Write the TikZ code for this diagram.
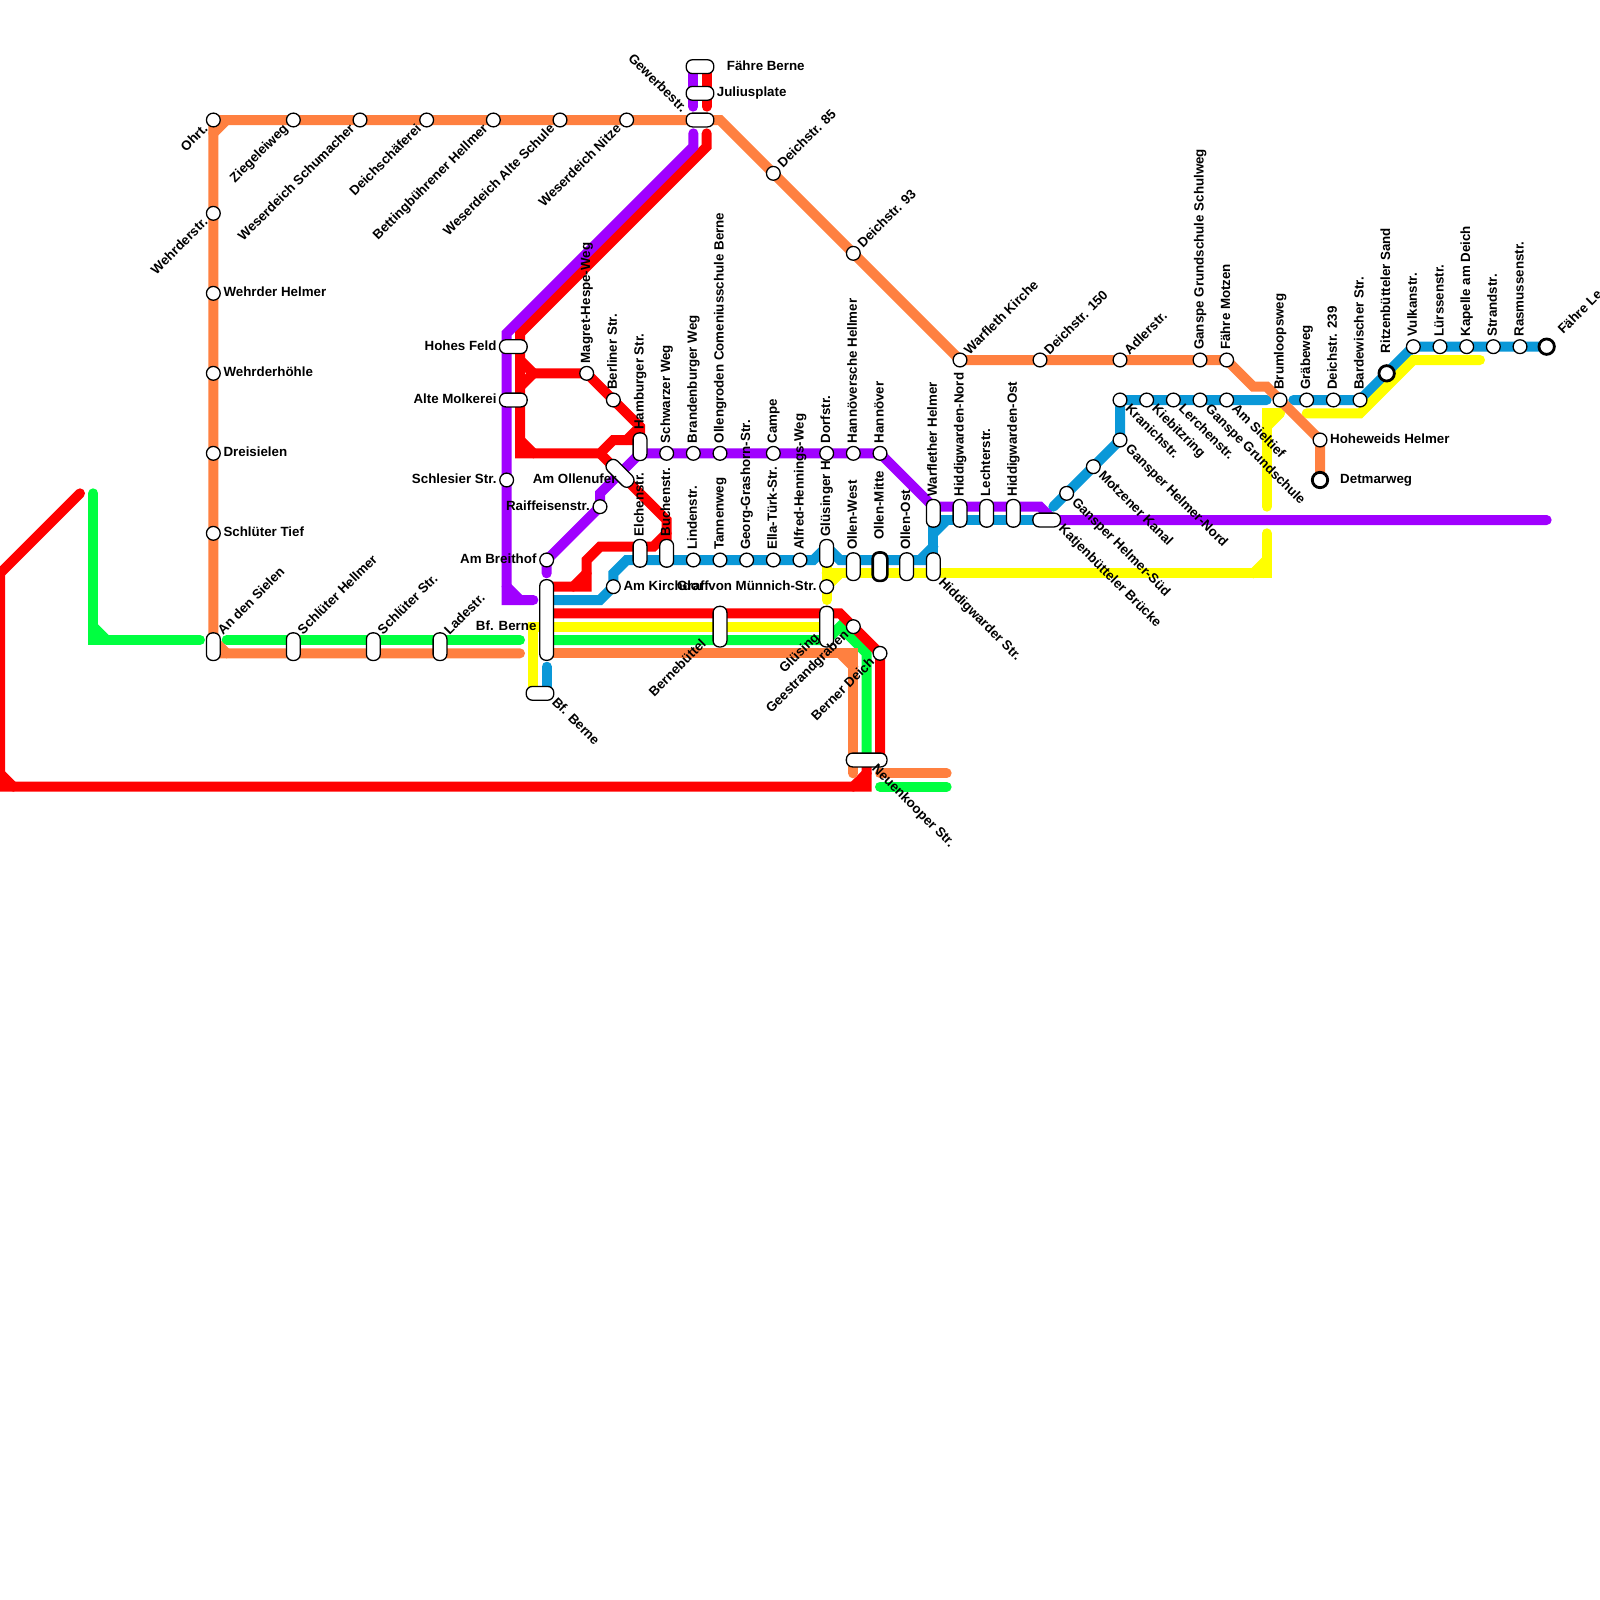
\documentclass[tikz,border=0pt]{standalone}
\usepackage{fontspec}
\setmainfont{Liberation Sans}
\definecolor{lred}{HTML}{FF0000}
\definecolor{lgreen}{HTML}{00FF40}
\definecolor{lorange}{HTML}{FF8040}
\definecolor{lyellow}{HTML}{FFFF00}
\definecolor{lblue}{HTML}{0A98D8}
\definecolor{lpurple}{HTML}{A000FF}
\tikzset{
  route/.style={line width=10pt,line cap=round,line join=miter,miter limit=10},
  stn/.style={circle,draw=black,fill=white,line width=1.3pt,minimum size=13.8pt,inner sep=0pt},
  termi/.style={circle,draw=black,fill=white,line width=2.8pt,minimum size=15.4pt,inner sep=0pt},
  pillv/.style={rectangle,draw=black,fill=white,line width=1.3pt,rounded corners=6.2pt,minimum width=13.8pt,minimum height=#1,inner sep=0pt},
  pillv/.default=27.6pt,
  pillh/.style={rectangle,draw=black,fill=white,line width=1.3pt,rounded corners=6.2pt,minimum height=13.8pt,minimum width=#1,inner sep=0pt},
  pillh/.default=27.6pt,
  txt/.style={font=\fontsize{13.33pt}{15pt}\bfseries,inner sep=0pt,text height=9.6pt,text depth=2.6pt},
  tr/.style={txt,anchor=west,xshift=#1},tr/.default=10pt,
  tl/.style={txt,anchor=east,xshift=-#1},tl/.default=10pt,
  tup/.style={txt,rotate=90,anchor=west,xshift=#1},tup/.default=10pt,
  tne/.style={txt,rotate=45,anchor=west,xshift=#1},tne/.default=10pt,
  tse/.style={txt,rotate=-45,anchor=west,xshift=#1},tse/.default=10pt,
  tsw/.style={txt,rotate=45,anchor=east,xshift=-#1},tsw/.default=10pt,
  tnw/.style={txt,rotate=-45,anchor=east,xshift=-#1},tnw/.default=10pt,
}
\begin{document}
\begin{tikzpicture}[x=13.3333pt,y=-13.3333pt]
\useasboundingbox (0,0) rectangle (120,120);
\clip (0,0) rectangle (120,120);
\fill[white] (0,0) rectangle (120,120);
% blue
\begin{scope}[route,draw=lblue]
\draw (41,45) -- (45,45) -- (46,44) -- (46,43) -- (47,42) -- (61,42) -- (62,41) -- (63,42) -- (70,42);
\draw (69,42) -- (70,41);
\draw (70,42) -- (70,39) -- (79,39);
\draw (70,40) -- (71,39);
\draw (41,50) -- (41,52);
\draw (79,38) -- (84,33) -- (84,30) -- (95,30);
\draw (97,30) -- (102,30) -- (106,26) -- (116,26);
\end{scope}
% yellow
\begin{scope}[route,draw=lyellow]
\draw (40,52) -- (40,47) -- (62,47);
\draw (62,42) -- (62,45);
\draw (62,43) -- (95,43) -- (95,40);
\draw (62,44) -- (63,43);
\draw (94,43) -- (95,42);
\draw (95,38) -- (95,31) -- (96,31);
\draw (95,32) -- (96,31);
\draw (98,31) -- (102,31) -- (106,27) -- (111,27);
\end{scope}
% green
\begin{scope}[route,draw=lgreen]
\draw (7,37) -- (7,48) -- (15,48);
\draw (7,47) -- (8,48);
\draw (17,48) -- (39,48);
\draw (41,48) -- (62,48) -- (63,47) -- (65,49) -- (65,57);
\draw (66,59) -- (71,59);
\end{scope}
% red
\begin{scope}[route,draw=lred]
\draw (6,37) -- (0,43) -- (0,59) -- (65,59) -- (65,57);
\draw (0,58) -- (1,59);
\draw (64,59) -- (65,58);
\draw (41,46) -- (63,46) -- (66,49) -- (66,57);
\draw (53,5) -- (53,8);
\draw (53,10) -- (53,11) -- (39,25) -- (39,34) -- (45,34) -- (46,33) -- (48,33);
\draw (39,33) -- (40,34);
\draw (39,27) -- (40,28) -- (39,29);
\draw (40,28) -- (44,28) -- (48,32) -- (48,33);
\draw (47,33) -- (48,32);
\draw (45,34) -- (50,39) -- (50,41);
\draw (50,40) -- (49,41) -- (45,41) -- (44,42) -- (44,44) -- (41,44);
\draw (43,44) -- (44,43);
\end{scope}
% purple
\begin{scope}[route,draw=lpurple]
\draw (52,5) -- (52,8);
\draw (52,10) -- (52,11) -- (38,25) -- (38,45) -- (40,45);
\draw (38,44) -- (39,45);
\draw (41,43) -- (41,42) -- (45,38) -- (45,37) -- (48,34) -- (66,34) -- (70,38) -- (78,38) -- (79,39) -- (116,39);
\end{scope}
% orange
\begin{scope}[route,draw=lorange]
\draw (39,49) -- (16,49) -- (16,9) -- (54,9) -- (72,27) -- (92,27) -- (94,29) -- (95,29) -- (99,33) -- (99,36);
\draw (16,48) -- (17,49);
\draw (16,10) -- (17,9);
\draw (41,49) -- (64,49) -- (64,58);
\draw (63,49) -- (64,50);
\draw (66,58) -- (71,58);
\end{scope}
% stations
\node[stn] (ohrt) at (16,9) {};
\node[stn] (ziegel) at (22,9) {};
\node[stn] (schum) at (27,9) {};
\node[stn] (schaef) at (32,9) {};
\node[stn] (betting) at (37,9) {};
\node[stn] (alteschule) at (42,9) {};
\node[stn] (nitze) at (47,9) {};
\node[stn] (wehrderstr) at (16,16) {};
\node[stn] (wehrderh) at (16,22) {};
\node[stn] (wehrderhoe) at (16,28) {};
\node[stn] (dreis) at (16,34) {};
\node[stn] (schtief) at (16,40) {};
\node[pillv] (sielen) at (16,48.5) {};
\node[pillv] (schhell) at (22,48.5) {};
\node[pillv] (schstr) at (28,48.5) {};
\node[pillv] (lade) at (33,48.5) {};
\node[pillh] (faehreb) at (52.5,5) {};
\node[pillh] (julius) at (52.5,7) {};
\node[pillh] (gewerbe) at (52.5,9) {};
\node[stn] (d85) at (58,13) {};
\node[stn] (d93) at (64,19) {};
\node[stn] (warfleth) at (72,27) {};
\node[stn] (d150) at (78,27) {};
\node[stn] (adler) at (84,27) {};
\node[stn] (schulweg) at (90,27) {};
\node[stn] (motzen) at (92,27) {};
\node[pillh] (hohes) at (38.5,26) {};
\node[pillh] (molkerei) at (38.5,30) {};
\node[stn] (schlesier) at (38,36) {};
\node[stn] (magret) at (44,28) {};
\node[stn] (berliner) at (46,30) {};
\node[pillv] (hamburger) at (48,33.5) {};
\node[pillh=33pt,rotate=-45] (ollenufer) at (46.5,35.5) {};
\node[stn] (raiff) at (45,38) {};
\node[stn] (breithof) at (41,42) {};
\node[stn] (schwarz) at (50,34) {};
\node[stn] (brandenb) at (52,34) {};
\node[stn] (comenius) at (54,34) {};
\node[stn] (campe) at (58,34) {};
\node[stn] (dorf) at (62,34) {};
\node[stn] (hannh) at (64,34) {};
\node[stn] (hann) at (66,34) {};
\node[pillv] (elchen) at (48,41.5) {};
\node[pillv] (buchen) at (50,41.5) {};
\node[stn] (linden) at (52,42) {};
\node[stn] (tannen) at (54,42) {};
\node[stn] (grashorn) at (56,42) {};
\node[stn] (ella) at (58,42) {};
\node[stn] (alfred) at (60,42) {};
\node[pillv] (gluesh) at (62,41.5) {};
\node[pillv] (ollenw) at (64,42.5) {};
\node[pillv=28.4pt,line width=2.6pt,minimum width=14.6pt] (ollenm) at (66,42.5) {};
\node[pillv] (olleno) at (68,42.5) {};
\node[pillv] (hiddstr) at (70,42.5) {};
\node[stn] (kirchdorf) at (46,44) {};
\node[stn] (graf) at (62,44) {};
\node[pillv=80.6pt] (bfb) at (41,46.5) {};
\node[pillh] (bfb2) at (40.5,52) {};
\node[pillv=40.6pt] (bernebuettel) at (54,47) {};
\node[pillv=40.6pt] (gluesing) at (62,47) {};
\node[stn] (geest) at (64,47) {};
\node[stn] (berner) at (66,49) {};
\node[pillh=40.6pt] (neuenk) at (65,57) {};
\node[pillv] (warflether) at (70,38.5) {};
\node[pillv] (hiddn) at (72,38.5) {};
\node[pillv] (lechter) at (74,38.5) {};
\node[pillv] (hiddo) at (76,38.5) {};
\node[pillh] (katjen) at (78.5,39) {};
\node[stn] (gsued) at (80,37) {};
\node[stn] (kanal) at (82,35) {};
\node[stn] (gnord) at (84,33) {};
\node[stn] (kranich) at (84,30) {};
\node[stn] (kiebitz) at (86,30) {};
\node[stn] (lerchen) at (88,30) {};
\node[stn] (ganspe) at (90,30) {};
\node[stn] (sieltief) at (92,30) {};
\node[stn] (brum) at (96,30) {};
\node[stn] (graebe) at (98,30) {};
\node[stn] (d239) at (100,30) {};
\node[stn] (bardew) at (102,30) {};
\node[termi] (ritzen) at (104,28) {};
\node[stn] (vulkan) at (106,26) {};
\node[stn] (luerss) at (108,26) {};
\node[stn] (kapelle) at (110,26) {};
\node[stn] (strand) at (112,26) {};
\node[stn] (rasmus) at (114,26) {};
\node[termi] (faehrel) at (116,26) {};
\node[stn] (hoheweids) at (99,33) {};
\node[termi] (detmar) at (99,36) {};
% labels
\coordinate (p16) at (16,48); \coordinate (p22) at (22,48); \coordinate (p28) at (28,48); \coordinate (p33) at (33,48);
\node[tsw] (l1) at (ohrt) {Ohrt.};
\node[tsw] (l2) at (ziegel) {Ziegeleiweg};
\node[tsw] (l3) at (schum) {Weserdeich Schumacher};
\node[tsw] (l4) at (schaef) {Deichschäferei};
\node[tsw] (l5) at (betting) {Bettingbührener Hellmer};
\node[tsw] (l6) at (alteschule) {Weserdeich Alte Schule};
\node[tsw] (l7) at (nitze) {Weserdeich Nitze};
\node[tsw] (l8) at (wehrderstr) {Wehrderstr.};
\node[tr] (l9) at (wehrderh) {Wehrder Helmer};
\node[tr] (l10) at (wehrderhoe) {Wehrderhöhle};
\node[tr] (l11) at (dreis) {Dreisielen};
\node[tr] (l12) at (schtief) {Schlüter Tief};
\node[tne] (l13) at (p16) {An den Sielen};
\node[tne] (l14) at (p22) {Schlüter Hellmer};
\node[tne] (l15) at (p28) {Schlüter Str.};
\node[tne] (l16) at (p33) {Ladestr.};
\node[tr=20pt] (l17) at (53,5) {Fähre Berne};
\node[tr] (l18) at (53,7) {Juliusplate};
\node[tnw=13pt] (l19) at (52,9) {Gewerbestr.};
\node[tne] (l20) at (d85) {Deichstr. 85};
\node[tne] (l21) at (d93) {Deichstr. 93};
\node[tne] (l22) at (warfleth) {Warfleth Kirche};
\node[tne] (l23) at (d150) {Deichstr. 150};
\node[tne] (l24) at (adler) {Adlerstr.};
\node[tup] (l25) at (schulweg) {Ganspe Grundschule Schulweg};
\node[tup] (l26) at (motzen) {Fähre Motzen};
\node[tl] (l27) at (38,26) {Hohes Feld};
\node[tl] (l28) at (38,30) {Alte Molkerei};
\node[tl] (l29) at (schlesier) {Schlesier Str.};
\node[tup] (l30) at (magret) {Magret-Hespe-Weg};
\node[tup] (l31) at (berliner) {Berliner Str.};
\node[tup] (l32) at (48,33) {Hamburger Str.};
\node[tl] (l33) at (47,36) {Am Ollenufer};
\node[tl] (l34) at (raiff) {Raiffeisenstr.};
\node[tl] (l35) at (breithof) {Am Breithof};
\node[tup] (l36) at (schwarz) {Schwarzer Weg};
\node[tup] (l37) at (brandenb) {Brandenburger Weg};
\node[tup] (l38) at (comenius) {Ollengroden Comeniusschule Berne};
\node[tup] (l39) at (campe) {Campe};
\node[tup] (l40) at (dorf) {Dorfstr.};
\node[tup] (l41) at (hannh) {Hannöversche Hellmer};
\node[tup] (l42) at (hann) {Hannöver};
\node[tup] (l43) at (48,41) {Elchenstr.};
\node[tup] (l44) at (50,41) {Buchenstr.};
\node[tup] (l45) at (linden) {Lindenstr.};
\node[tup] (l46) at (tannen) {Tannenweg};
\node[tup] (l47) at (grashorn) {Georg-Grashorn-Str.};
\node[tup] (l48) at (ella) {Ella-Türk-Str.};
\node[tup] (l49) at (alfred) {Alfred-Hennings-Weg};
\node[tup] (l50) at (62,41) {Glüsinger H};
\node[tup] (l51) at (64,42) {Ollen-West};
\node[tup=20pt] (l52) at (66,42) {Ollen-Mitte};
\node[tup] (l53) at (68,42) {Ollen-Ost};
\node[tse] (l54) at (70,43) {Hiddigwarder Str.};
\node[tr] (l55) at (kirchdorf) {Am Kirchdorf};
\node[tl] (l56) at (graf) {Graf von Münnich-Str.};
\node[tl] (l57) at (41,47) {Bf. Berne};
\node[tse] (l58) at (41,52) {Bf. Berne};
\node[tsw=22pt] (l59) at (bernebuettel) {Bernebüttel};
\node[tsw=13pt] (l60) at (gluesing) {Glüsing};
\node[tsw=9pt] (l61) at (geest) {Geestrandgraben};
\node[tsw=10pt] (l62) at (berner) {Berner Deich};
\node[tse] (l63) at (65,57) {Neuenkooper Str.};
\node[tup] (l64) at (70,38) {Warflether Helmer};
\node[tup] (l65) at (72,38) {Hiddigwarden-Nord};
\node[tup] (l66) at (74,38) {Lechterstr.};
\node[tup] (l67) at (76,38) {Hiddigwarden-Ost};
\node[tse] (l68) at (79,39) {Katjenbütteler Brücke};
\node[tse] (l69) at (gsued) {Gansper Helmer-Süd};
\node[tse] (l70) at (kanal) {Motzener Kanal};
\node[tse] (l71) at (gnord) {Gansper Helmer-Nord};
\node[tse] (l72) at (kranich) {Kranichstr.};
\node[tse] (l73) at (kiebitz) {Kiebitzring};
\node[tse] (l74) at (lerchen) {Lerchenstr.};
\node[tse] (l75) at (ganspe) {Ganspe Grundschule};
\node[tse] (l76) at (sieltief) {Am Sieltief};
\node[tup] (l77) at (brum) {Brumloopsweg};
\node[tup] (l78) at (graebe) {Gräbeweg};
\node[tup] (l79) at (d239) {Deichstr. 239};
\node[tup] (l80) at (bardew) {Bardewischer Str.};
\node[tup=20pt] (l81) at (ritzen) {Ritzenbütteler Sand};
\node[tup] (l82) at (vulkan) {Vulkanstr.};
\node[tup] (l83) at (luerss) {Lürssenstr.};
\node[tup] (l84) at (kapelle) {Kapelle am Deich};
\node[tup] (l85) at (strand) {Strandstr.};
\node[tup] (l86) at (rasmus) {Rasmussenstr.};
\node[tne=20pt] (l87) at (faehrel) {Fähre Le};
\node[tr] (l88) at (hoheweids) {Hoheweids Helmer};
\node[tr=20pt] (l89) at (detmar) {Detmarweg};
\end{tikzpicture}
\end{document}
